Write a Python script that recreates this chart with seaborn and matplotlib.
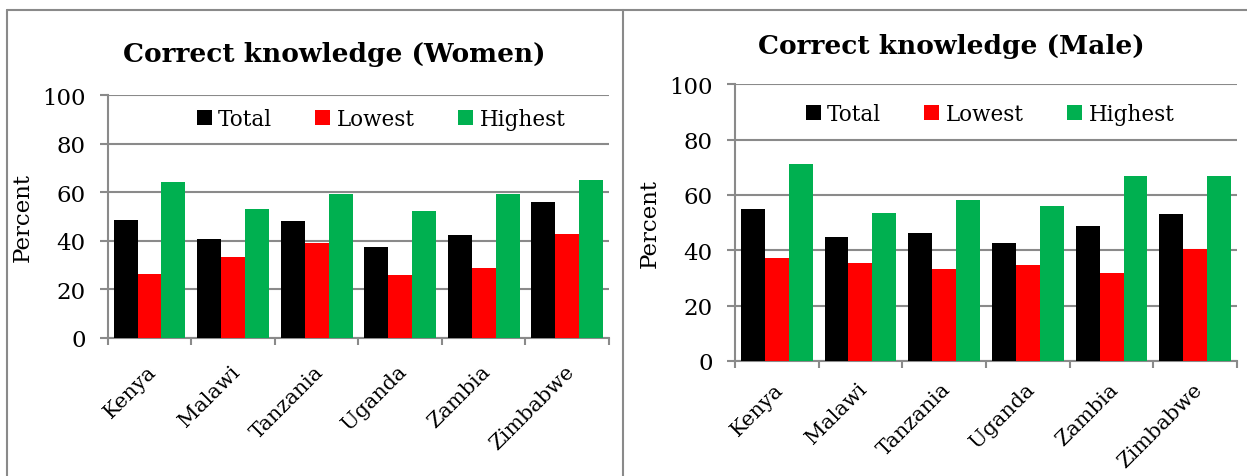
import pandas as pd
import seaborn as sns
import matplotlib.pyplot as plt
from matplotlib.lines import Line2D
from matplotlib.transforms import ScaledTranslation

# ------------------------------
# Data
# ------------------------------
countries = ["Kenya", "Malawi", "Tanzania", "Uganda", "Zambia", "Zimbabwe"]
groups = ["Total", "Lowest", "Highest"]

women_total = [48.6, 40.8, 48.1, 37.6, 42.4, 55.9]
women_lowest = [26.3, 33.3, 39.1, 26.0, 28.8, 42.8]
women_highest = [64.4, 53.1, 59.3, 52.3, 59.3, 65.2]

male_total = [54.9, 44.7, 46.1, 42.6, 48.9, 53.0]
male_lowest = [37.2, 35.4, 33.1, 34.7, 31.9, 40.4]
male_highest = [71.1, 53.4, 58.3, 55.9, 66.7, 66.9]

colors = ["#000000", "#FF0000", "#00B050"]
grey = "#8a8a8a"


def to_long(total, lowest, highest):
    rows = []
    for series, vals in zip(groups, [total, lowest, highest]):
        for c, v in zip(countries, vals):
            rows.append({"Country": c, "Group": series, "Percent": v})
    return pd.DataFrame(rows)


df_women = to_long(women_total, women_lowest, women_highest)
df_male = to_long(male_total, male_lowest, male_highest)

sns.set_theme(style="white")
plt.rcParams["font.family"] = ["DejaVu Serif"]
plt.rcParams["text.color"] = "black"
plt.rcParams["axes.labelcolor"] = "black"
plt.rcParams["xtick.color"] = "black"
plt.rcParams["ytick.color"] = "black"

fig = plt.figure(figsize=(12.47, 4.77), dpi=100)
ax1 = fig.add_axes([0.0864, 0.290, 0.402, 0.508])
ax2 = fig.add_axes([0.5894, 0.2411, 0.4026, 0.580])


def draw(ax, df, leg_xy, xpad):
    sns.barplot(data=df, x="Country", y="Percent", hue="Group",
                hue_order=groups, palette=colors, width=0.86, gap=0,
                linewidth=0, saturation=1, ax=ax, zorder=3)
    ax.set_ylim(0, 100)
    ax.set_xlim(-0.5, len(countries) - 0.5)
    ax.set_yticks([0, 20, 40, 60, 80, 100])
    ax.yaxis.grid(True, color=grey, linewidth=1.5, zorder=0)
    ax.xaxis.grid(False)
    for s in ["top", "right"]:
        ax.spines[s].set_visible(False)
    for s in ["left", "bottom"]:
        ax.spines[s].set_color(grey)
        ax.spines[s].set_linewidth(1.5)
    ax.tick_params(axis="y", left=True, length=6, width=1.5, color=grey,
                   labelcolor="black", pad=10, labelsize=16.5)
    # category boundary ticks, Excel style
    ax.set_xticks([i - 0.5 for i in range(len(countries) + 1)], minor=True)
    ax.tick_params(axis="x", which="minor", bottom=True, length=5,
                   width=1.5, color=grey)
    ax.tick_params(axis="x", which="major", bottom=False, pad=xpad)
    ax.set_xticks(range(len(countries)))
    ax.set_xticklabels(countries, rotation=45, ha="right",
                       rotation_mode="anchor", fontsize=15)
    shift = ScaledTranslation(-3 / 100, 0, fig.dpi_scale_trans)
    for lab in ax.get_xticklabels():
        lab.set_transform(lab.get_transform() + shift)
    ax.set_xlabel("")
    ax.set_ylabel("Percent", fontsize=16.5, labelpad=6)
    ax.legend(loc="center", bbox_to_anchor=leg_xy, ncol=3, frameon=False,
              fontsize=15.5, handlelength=0.7, handleheight=0.7,
              handletextpad=0.3, columnspacing=2.0)


draw(ax1, df_women, (0.545, 0.902), 11)
draw(ax2, df_male, (0.508, 0.893), 7)

fig.text(0.268, 0.8847, "Correct knowledge (Women)", ha="center",
         va="center", fontsize=19, fontweight="bold")
fig.text(0.7626, 0.9015, "Correct knowledge (Male)", ha="center",
         va="center", fontsize=19, fontweight="bold")

# panel borders
y_top = 1 - 11 / 477
for line in [
    Line2D([7 / 1247, 1], [y_top, y_top]),
    Line2D([7 / 1247, 7 / 1247], [0, y_top]),
    Line2D([623 / 1247, 623 / 1247], [0, y_top]),
]:
    line.set_transform(fig.transFigure)
    line.set_color(grey)
    line.set_linewidth(1.5)
    fig.add_artist(line)

fig.savefig("out.png", dpi=100)
